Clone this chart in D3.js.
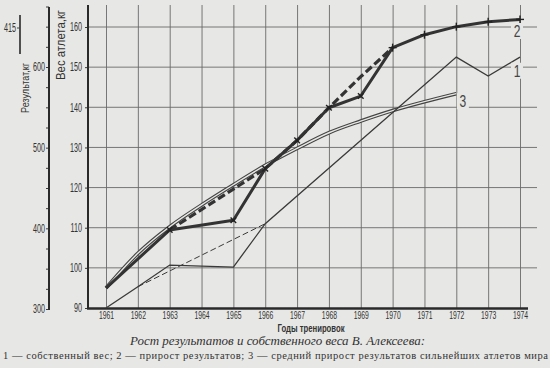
<!DOCTYPE html>
<html><head><meta charset="utf-8">
<script src="https://cdn.jsdelivr.net/npm/d3@7"></script>
<style>body{margin:0;background:#e7e7e5} svg{display:block}</style>
</head><body><svg id="c" width="550" height="368"></svg>
<script>
// ---- data ----
const years = [1961,1962,1963,1964,1965,1966,1967,1968,1969,1970,1971,1972,1973,1974];
// 1 — own body weight, kg (left inner axis)
const bodyWeight      = [90, 95.3, 100.7, null, 100.2, 111, null, null, null, null, null, 152.5, 147.8, 152.5];
const bodyWeightTrend = [null, 95.3, null, null, null, 111, null, null, null, null, null, null, null, null];
// 2 — results, kg (outer axis)
const resultActual  = [326, null, 398, null, 410, 474, 509, 549.5, 564, 624, 640, 650, 656, 659];
const resultPlanned = [null, null, 398, null, null, 474, 509, 549.5, 588, 624, null, null, null, null];
const resultMarks   = [false,false,true,false,true,true,true,true,true,true,true,true,true,true];
// 3 — average growth of the world's strongest athletes, kg
const worldAverage  = [326, 369, 402, 429, 454, 478, 499, 518.5, 533, 546, 557, 567, null, null];

const weightTicks = [90,100,110,120,130,140,150,160];
const resultLabelTicks = [300,400,500,600];
const resultMinorTicks = [300,325,350,375,400,425,450,475,500,525,550,575,600,625,650,675];
const seriesLabels = [{t:"2",x:1974,w:159},{t:"1",x:1974,w:149.1},{t:"3",x:1972.3,w:141.5}];

// ---- drawing ----
const BG = "#e7e7e5", INK = "#3a3a3a", GRID = "#6a6a6a";
const svg = d3.select("#c");
svg.append("rect").attr("width",550).attr("height",368).attr("fill",BG);

const x  = d3.scaleLinear().domain([1961,1974]).range([106,520]);
const yW = d3.scaleLinear().domain([90,160]).range([308,27]);
const yR = d3.scaleLinear().domain([300,600]).range([309,67]);
const SANS = "'Liberation Sans',Arial,sans-serif";
const condense = (sel, f) => sel.each(function(){
  const n = this.getComputedTextLength();
  if (n > 0) d3.select(this).attr("textLength", n*f).attr("lengthAdjust","spacingAndGlyphs");
});
const fit = (sel, w) => sel.attr("textLength", w).attr("lengthAdjust","spacingAndGlyphs");

// vertical grid (year axis ticks extended upward)
const gx = svg.append("g").attr("transform","translate(0,308)")
  .call(d3.axisBottom(x).tickValues(years).tickFormat(d3.format("d")).tickSize(-303).tickPadding(3));
gx.select(".domain").remove();
gx.selectAll(".tick line").attr("stroke",GRID).attr("stroke-width",0.9);
gx.selectAll(".tick text").attr("font-family",SANS).attr("font-size",11).attr("fill","#333").call(condense,0.62);

// horizontal grid + weight axis
const gw = svg.append("g").attr("transform","translate(88,0)")
  .call(d3.axisLeft(yW).tickValues(weightTicks).tickSize(3).tickPadding(3));
gw.select(".domain").remove();
gw.selectAll(".tick text").attr("font-family",SANS).attr("font-size",12).attr("fill","#333").call(condense,0.6);
gw.selectAll(".tick line").attr("stroke",INK);
svg.append("g").selectAll("line").data(weightTicks.filter(d=>d>90)).join("line")
  .attr("x1",88).attr("x2",537).attr("y1",d=>yW(d)).attr("y2",d=>yW(d))
  .attr("stroke",GRID).attr("stroke-width",0.9);
svg.append("line").attr("x1",88).attr("x2",88).attr("y1",5).attr("y2",309)
  .attr("stroke","#2a2a2a").attr("stroke-width",2);
svg.append("line").attr("x1",87).attr("x2",528).attr("y1",308.5).attr("y2",308.5)
  .attr("stroke","#2a2a2a").attr("stroke-width",2.5);

// results axis
const gr = svg.append("g").attr("transform","translate(49,0)")
  .call(d3.axisLeft(yR).tickValues(resultMinorTicks).tickSize(3).tickPadding(1)
    .tickFormat(d=>resultLabelTicks.includes(d)?d:""));
gr.select(".domain").remove();
gr.selectAll(".tick line").attr("stroke",INK);
gr.selectAll(".tick text").attr("font-family",SANS).attr("font-size",12).attr("fill","#333").call(condense,0.6);
svg.append("line").attr("x1",49).attr("x2",49).attr("y1",7).attr("y2",310)
  .attr("stroke","#2a2a2a").attr("stroke-width",2);

// 415 break mark
svg.append("line").attr("x1",20).attr("x2",20).attr("y1",15).attr("y2",54).attr("stroke","#2a2a2a").attr("stroke-width",1.6);
svg.append("line").attr("x1",17).attr("x2",20).attr("y1",28).attr("y2",28).attr("stroke","#444").attr("stroke-width",1);
svg.append("text").attr("x",16).attr("y",32).attr("text-anchor","end").attr("font-family",SANS)
  .attr("font-size",12).attr("fill","#333").text("415").call(condense,0.6);

// axis titles
svg.append("text").attr("transform","translate(29,88) rotate(-90)").attr("text-anchor","middle")
  .attr("font-family",SANS).attr("font-size",11).attr("fill","#333").text("Результат,кг").call(fit,50);
svg.append("text").attr("transform","translate(65,45) rotate(-90)").attr("text-anchor","middle")
  .attr("font-family",SANS).attr("font-size",12).attr("fill","#333").text("Вес атлета,кг").call(fit,70);

// helper
const pts = (vals, sc) => years.map((yr,i)=>[yr, vals[i]]).filter(d=>d[1]!=null).map(d=>[x(d[0]), sc(d[1])]);

// series 3: double line
const smooth = d3.line().curve(d3.curveMonotoneX);
svg.append("path").attr("d",smooth(pts(worldAverage,yR))).attr("fill","none").attr("stroke","#444").attr("stroke-width",3.6);
svg.append("path").attr("d",smooth(pts(worldAverage,yR))).attr("fill","none").attr("stroke",BG).attr("stroke-width",1.4);

// series 1
const lin = d3.line();
svg.append("path").attr("d",lin(pts(bodyWeight,yW))).attr("fill","none").attr("stroke",INK).attr("stroke-width",1.3);
svg.append("path").attr("d",lin(pts(bodyWeightTrend,yW))).attr("fill","none").attr("stroke",INK)
  .attr("stroke-width",1).attr("stroke-dasharray","6,3");

// series 2
svg.append("path").attr("d",lin(pts(resultPlanned,yR))).attr("fill","none").attr("stroke","#333")
  .attr("stroke-width",3.2).attr("stroke-dasharray","8,3.5");
svg.append("path").attr("d",lin(pts(resultActual,yR))).attr("fill","none").attr("stroke","#333")
  .attr("stroke-width",3).attr("stroke-linejoin","round");
const marks = years.map((yr,i)=>({yr, v:resultActual[i], m:resultMarks[i]})).filter(d=>d.m);
const mg = svg.append("g").selectAll("g").data(marks).join("g")
  .attr("transform",d=>`translate(${x(d.yr)},${yR(d.v)}) rotate(${d.yr<1970?45:0})`);
mg.append("line").attr("x1",-4).attr("x2",4).attr("stroke","#222").attr("stroke-width",1.4);
mg.append("line").attr("y1",-4).attr("y2",4).attr("stroke","#222").attr("stroke-width",1.4);

// series labels
const lg = svg.append("g").selectAll("g").data(seriesLabels).join("g")
  .attr("transform",d=>`translate(${x(d.x)-3},${yW(d.w)})`);
lg.append("rect").attr("x",-6).attr("y",-8).attr("width",12).attr("height",16).attr("fill",BG);
lg.append("text").attr("text-anchor","middle").attr("dy","0.36em").attr("font-family",SANS)
  .attr("font-size",16).attr("fill","#444").text(d=>d.t).call(condense,0.75);

// captions
svg.append("text").attr("x",311).attr("y",332).attr("text-anchor","middle").attr("font-family",SANS)
  .attr("font-weight","bold").attr("font-size",11).attr("fill","#333").text("Годы тренировок").call(fit,67);
svg.append("text").attr("x",130).attr("y",345).attr("textLength",295).attr("lengthAdjust","spacing")
  .attr("font-family","'Liberation Serif','DejaVu Serif',serif").attr("font-style","italic")
  .attr("font-size",13).attr("fill","#333").text("Рост результатов и собственного веса В. Алексеева:");
svg.append("text").attr("x",3).attr("y",359).attr("textLength",545).attr("lengthAdjust","spacing")
  .attr("font-family","'Liberation Serif','DejaVu Serif',serif")
  .attr("font-size",10.5).attr("fill","#333").text("1 — собственный вес; 2 — прирост результатов; 3 — средний прирост результатов сильнейших атлетов мира");
</script></body></html>
